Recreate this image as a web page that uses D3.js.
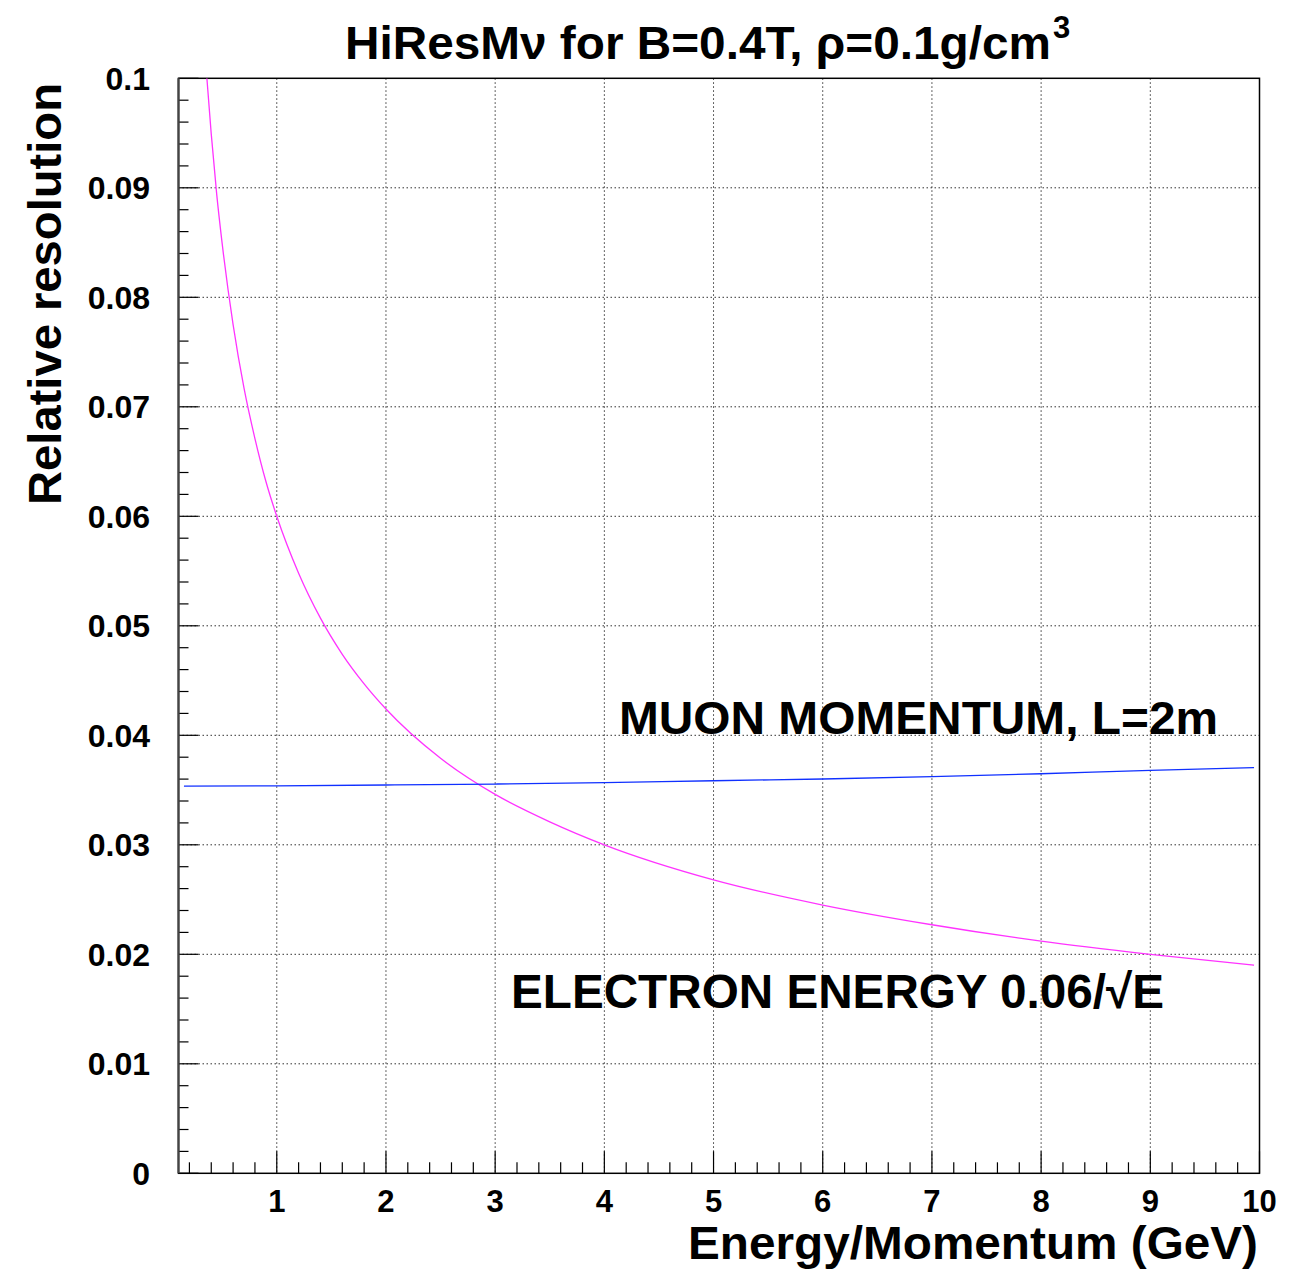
<!DOCTYPE html>
<html>
<head>
<meta charset="utf-8">
<title>HiResMν resolution</title>
<script src="https://cdn.jsdelivr.net/npm/d3@7"></script>
<style>
    body { margin: 0; background: #fff; }
    text { font-family: "Liberation Sans", Arial, Helvetica, sans-serif; font-weight: bold; fill: #000; }
</style>
</head>
<body>
<div id="chart"></div>
<script>
// Electron energy resolution
const electronE = [0.36, 0.4, 0.45, 0.5, 0.6, 0.7, 0.8, 0.9, 1, 1.2, 1.4, 1.6, 1.8, 2, 2.5, 3, 3.5, 4, 5, 6, 7, 8, 9, 9.95];
const electronRes = [0.1000, 0.0949, 0.0894, 0.0849, 0.0775, 0.0717, 0.0671, 0.0632, 0.0600, 0.0548, 0.0507, 0.0474, 0.0447, 0.0424, 0.0379, 0.0346, 0.0321, 0.0300, 0.0268, 0.0245, 0.0227, 0.0212, 0.0200, 0.0190];

// Muon momentum resolution
const muonP = [0.15, 1, 2, 3, 4, 5, 6, 7, 8, 9, 9.95];
const muonRes = [0.03535, 0.03538, 0.03546, 0.03555, 0.03567, 0.03585, 0.03601, 0.03622, 0.03649, 0.0368, 0.03704];

// Axis ticks
const xTicks = [1, 2, 3, 4, 5, 6, 7, 8, 9, 10];
const yTicks = [0, 0.01, 0.02, 0.03, 0.04, 0.05, 0.06, 0.07, 0.08, 0.09, 0.1];
const yTickLabels = ["0", "0.01", "0.02", "0.03", "0.04", "0.05", "0.06", "0.07", "0.08", "0.09", "0.1"];

const width = 1309;
const height = 1273;
const frame = { left: 178.5, right: 1259.5, top: 78.3, bottom: 1173.3 };

const svg = d3.select("#chart").append("svg")
    .attr("width", width)
    .attr("height", height);

const xScale = d3.scaleLinear()
    .domain([0.1, 10])
    .range([frame.left, frame.right]);

const yScale = d3.scaleLinear()
    .domain([0, 0.1])
    .range([frame.bottom, frame.top]);

// Dotted grid at the major ticks
const grid = svg.append("g")
    .attr("stroke", "#333")
    .attr("stroke-width", 1)
    .attr("stroke-dasharray", "1.5,2.5");

grid.selectAll(".vgrid")
    .data(xTicks.filter(d => d < 10))
    .enter()
    .append("line")
    .attr("x1", d => xScale(d))
    .attr("x2", d => xScale(d))
    .attr("y1", frame.top)
    .attr("y2", frame.bottom);

grid.selectAll(".hgrid")
    .data(yTicks.filter(d => d > 0 && d < 0.1))
    .enter()
    .append("line")
    .attr("x1", frame.left)
    .attr("x2", frame.right)
    .attr("y1", d => yScale(d))
    .attr("y2", d => yScale(d));

// Ticks: major and minor, pointing into the frame
const ticks = svg.append("g")
    .attr("stroke", "#000")
    .attr("stroke-width", 1.2);

ticks.selectAll(".xminor")
    .data(xScale.ticks(50))
    .enter()
    .append("line")
    .attr("x1", d => xScale(d))
    .attr("x2", d => xScale(d))
    .attr("y1", frame.bottom)
    .attr("y2", d => frame.bottom - (xTicks.includes(Math.round(d * 10) / 10) ? 22 : 11));

ticks.selectAll(".yminor")
    .data(yScale.ticks(50))
    .enter()
    .append("line")
    .attr("y1", d => yScale(d))
    .attr("y2", d => yScale(d))
    .attr("x1", frame.left)
    .attr("x2", d => frame.left + (Math.abs(Math.round(d * 1000) % 10) === 0 ? 20 : 10));

// Frame
svg.append("rect")
    .attr("x", frame.left)
    .attr("y", frame.top)
    .attr("width", frame.right - frame.left)
    .attr("height", frame.bottom - frame.top)
    .attr("fill", "none")
    .attr("stroke", "#000")
    .attr("stroke-width", 1.5);

svg.append("line")
    .attr("x1", frame.left)
    .attr("x2", frame.left)
    .attr("y1", frame.top)
    .attr("y2", frame.bottom)
    .attr("stroke", "#444")
    .attr("stroke-width", 2.2);

// Tick labels
svg.selectAll(".xlabel")
    .data(xTicks)
    .enter()
    .append("text")
    .attr("x", d => xScale(d))
    .attr("y", 1212)
    .attr("text-anchor", "middle")
    .style("font-size", "31px")
    .text(d => d);

svg.selectAll(".ylabel")
    .data(yTicks)
    .enter()
    .append("text")
    .attr("x", 150)
    .attr("y", d => yScale(d))
    .attr("dy", "0.36em")
    .attr("text-anchor", "end")
    .style("font-size", "32px")
    .text((d, i) => yTickLabels[i]);

// Curves, clipped to the frame
svg.append("clipPath")
    .attr("id", "plotClip")
    .append("rect")
    .attr("x", frame.left)
    .attr("y", frame.top)
    .attr("width", frame.right - frame.left)
    .attr("height", frame.bottom - frame.top);

const line = d3.line()
    .x(d => xScale(d[0]))
    .y(d => yScale(d[1]))
    .curve(d3.curveMonotoneX);

svg.append("path")
    .datum(electronE.map((e, i) => [e, electronRes[i]]))
    .attr("clip-path", "url(#plotClip)")
    .attr("d", line)
    .attr("fill", "none")
    .attr("stroke", "#ff33ff")
    .attr("stroke-width", 1.3);

svg.append("path")
    .datum(muonP.map((p, i) => [p, muonRes[i]]))
    .attr("clip-path", "url(#plotClip)")
    .attr("d", line)
    .attr("fill", "none")
    .attr("stroke", "#1030ff")
    .attr("stroke-width", 1.3);

// Curve labels
svg.append("text")
    .attr("x", 619)
    .attr("y", 734)
    .attr("textLength", 599)
    .attr("lengthAdjust", "spacingAndGlyphs")
    .style("font-size", "47px")
    .text("MUON MOMENTUM, L=2m");

svg.append("text")
    .attr("x", 511)
    .attr("y", 1008)
    .attr("textLength", 653)
    .attr("lengthAdjust", "spacingAndGlyphs")
    .style("font-size", "48px")
    .text("ELECTRON ENERGY 0.06/\u221AE");

// Title
const title = svg.append("text")
    .attr("x", 345)
    .attr("y", 59)
    .style("font-size", "47px");
title.append("tspan")
    .attr("textLength", 706)
    .attr("lengthAdjust", "spacingAndGlyphs")
    .text("HiResM\u03BD for B=0.4T, \u03C1=0.1g/cm");
title.append("tspan")
    .attr("dy", -21)
    .attr("dx", 2)
    .style("font-size", "31px")
    .text("3");

// Axis titles
svg.append("text")
    .attr("x", 1258)
    .attr("y", 1259)
    .attr("text-anchor", "end")
    .attr("textLength", 570)
    .attr("lengthAdjust", "spacingAndGlyphs")
    .style("font-size", "46px")
    .text("Energy/Momentum (GeV)");

svg.append("text")
    .attr("transform", "translate(61,505) rotate(-90)")
    .attr("textLength", 422)
    .attr("lengthAdjust", "spacingAndGlyphs")
    .style("font-size", "46px")
    .text("Relative resolution");
</script>
</body>
</html>
